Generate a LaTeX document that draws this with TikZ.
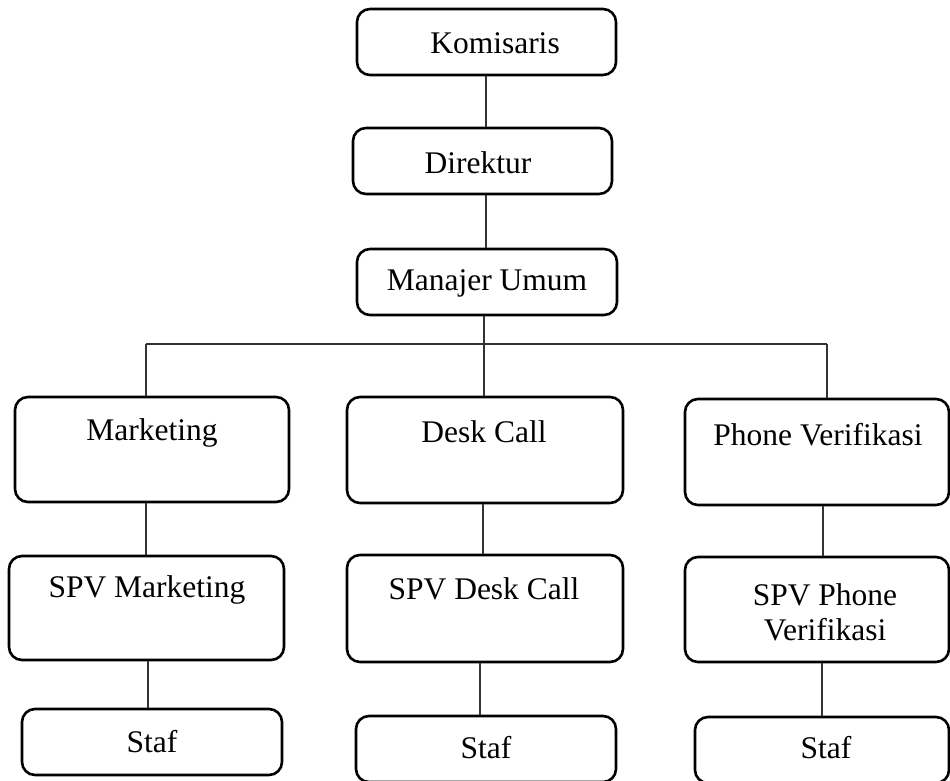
\documentclass[tikz,border=0pt]{standalone}
\usepackage{fontspec}
\setmainfont{Liberation Serif}
\begin{document}
\begin{tikzpicture}[x=1pt,y=-1pt,
  box/.style={draw=black,line width=2.6pt,rounded corners=13pt,rectangle,inner sep=0pt},
  txt/.style={font=\fontsize{31.5}{35}\selectfont,inner sep=0pt,align=center},
  conn/.style={draw=black!80,line width=1.3pt}]
\useasboundingbox (0,0) rectangle (950,780);
% boxes
\node[box,minimum width=259pt,minimum height=66pt] (kom) at (486.5,42) {};
\node[box,minimum width=259pt,minimum height=66pt] (dir) at (482.5,161) {};
\node[box,minimum width=260pt,minimum height=66pt] (man) at (487,282) {};
\node[box,minimum width=274pt,minimum height=105pt] (mkt) at (152,449.5) {};
\node[box,minimum width=276pt,minimum height=106pt] (desk) at (485,450) {};
\node[box,minimum width=264pt,minimum height=106pt] (phone) at (817,452) {};
\node[box,minimum width=275pt,minimum height=104pt] (spvm) at (146.5,608) {};
\node[box,minimum width=276pt,minimum height=107pt] (spvd) at (485,608.5) {};
\node[box,minimum width=264pt,minimum height=105pt] (spvp) at (817,609.5) {};
\node[box,minimum width=260pt,minimum height=66pt] (staf1) at (152,742) {};
\node[box,minimum width=260pt,minimum height=66pt] (staf2) at (486,749) {};
\node[box,minimum width=254pt,minimum height=66pt] (staf3) at (822,750) {};
% texts
\node[txt] (tkom) at (495,43) {Komisaris};
\node[txt] (tdir) at (478,163) {Direktur};
\node[txt] (tman) at (487,283) {Manajer Umum};
\node[txt] (tmkt) at (152,433) {Marketing};
\node[txt] (tdesk) at (484,432) {Desk Call};
\node[txt] (tphone) at (818,435) {Phone Verifikasi};
\node[txt] (tspvm) at (147,590) {SPV Marketing};
\node[txt] (tspvd) at (484,589) {SPV Desk Call};
\node[txt] (tspvp) at (825,612) {SPV Phone\\Verifikasi};
\node[txt] (tstaf1) at (152,742) {Staf};
\node[txt] (tstaf2) at (486,748) {Staf};
\node[txt] (tstaf3) at (826,748) {Staf};
% connector coordinates
\coordinate (cA) at (486,0);
\coordinate (bL) at (146,344);
\coordinate (bM) at (484,344);
\coordinate (bR) at (827,344);
\coordinate (cm2) at (148,0);
\coordinate (cd1) at (483,0);
\coordinate (cd2) at (480,0);
\coordinate (cp1) at (823,0);
\coordinate (cp2) at (822,0);
% connectors
\draw[conn] (kom.south -| cA) -- (dir.north -| cA);
\draw[conn] (dir.south -| cA) -- (man.north -| cA);
\draw[conn] (man.south -| bM) -- (bM);
\draw[conn] (bL) -- (bR);
\draw[conn] (bL) -- (mkt.north -| bL);
\draw[conn] (bM) -- (desk.north -| bM);
\draw[conn] (bR) -- (phone.north -| bR);
\draw[conn] (mkt.south -| bL) -- (spvm.north -| bL);
\draw[conn] (spvm.south -| cm2) -- (staf1.north -| cm2);
\draw[conn] (desk.south -| cd1) -- (spvd.north -| cd1);
\draw[conn] (spvd.south -| cd2) -- (staf2.north -| cd2);
\draw[conn] (phone.south -| cp1) -- (spvp.north -| cp1);
\draw[conn] (spvp.south -| cp2) -- (staf3.north -| cp2);
\end{tikzpicture}
\end{document}
